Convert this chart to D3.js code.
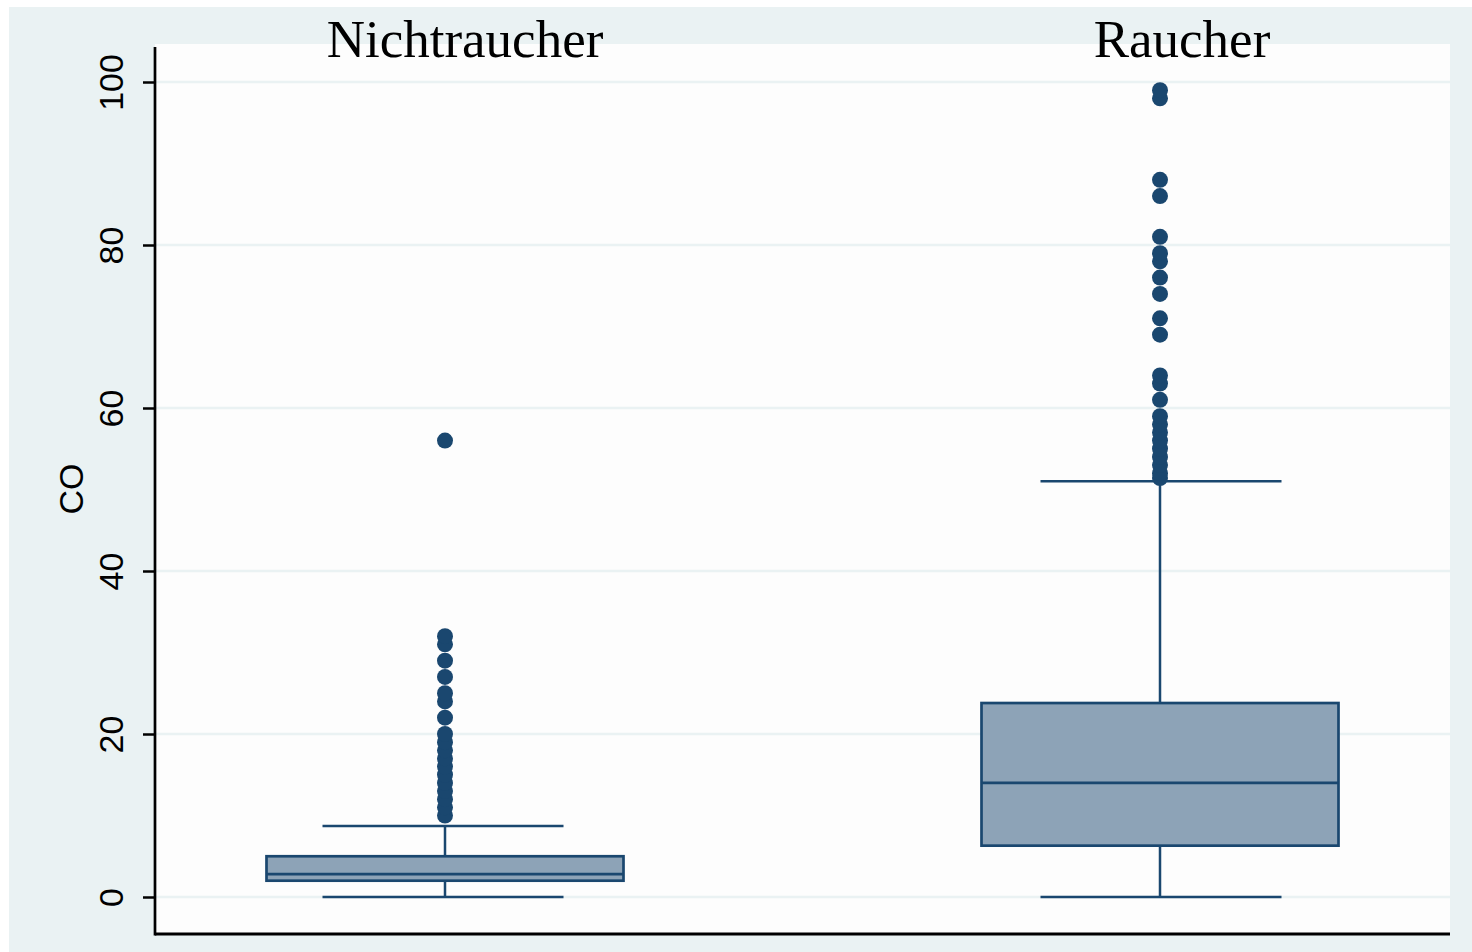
<!DOCTYPE html>
<html>
<head>
<meta charset="utf-8">
<script src="https://cdn.jsdelivr.net/npm/d3@7"></script>
<style>
  html, body { margin: 0; padding: 0; background: #ffffff; }
  svg { display: block; }
</style>
</head>
<body>
<div id="chart"></div>
<script>
// ---------------- data ----------------
const groups = ["Nichtraucher", "Raucher"];
const whiskerLow  = [0, 0];
const q1          = [2, 6.3];
const medians     = [2.8, 14];
const q3          = [5, 23.8];
const whiskerHigh = [8.7, 51];
const outliersNichtraucher = [10, 11, 12, 13, 14, 15, 16, 17, 18, 19, 20, 22, 24, 25, 27, 29, 31, 32, 56];
const outliersRaucher = [51.4, 52, 53, 54, 55, 56, 57, 58, 59, 61, 63, 64, 69, 71, 74, 76, 78, 79, 81, 86, 88, 98, 99];
const yTicks = [0, 20, 40, 60, 80, 100];
const yLabel = "CO";

// ---------------- layout ----------------
const W = 1472, H = 952;
const plotL = 155, plotR = 1450, plotT = 44, plotB = 934;
const navy = "#1a476f";
const fillCol = "#8da3b7";
const bg = "#eaf2f3";

const svg = d3.select("#chart").append("svg").attr("width", W).attr("height", H);
svg.append("rect").attr("x", 0).attr("y", 0).attr("width", W).attr("height", H).attr("fill", "#fff");
svg.append("rect").attr("x", 9).attr("y", 7).attr("width", W - 9).attr("height", H - 7).attr("fill", bg);
svg.append("rect").attr("x", plotL).attr("y", plotT).attr("width", plotR - plotL).attr("height", plotB - plotT).attr("fill", "#fdfdfd");

const y = d3.scaleLinear().domain([0, 100]).range([897, 82]);
const x = d3.scalePoint().domain(groups).range([445, 1160]);
const boxW = 357, capW = 241;

// grid
svg.append("g").selectAll("line").data(yTicks).join("line")
  .attr("x1", plotL).attr("x2", plotR)
  .attr("y1", d => y(d)).attr("y2", d => y(d))
  .attr("stroke", bg).attr("stroke-width", 2.5);

// y axis
const yAxis = d3.axisLeft(y).tickValues(yTicks).tickSize(12).tickPadding(0);
const ga = svg.append("g").attr("transform", `translate(${plotL},0)`).call(yAxis);
ga.select(".domain").remove();
ga.selectAll(".tick line").attr("stroke", "#000").attr("stroke-width", 2.5);
ga.selectAll(".tick text")
  .attr("transform", "rotate(-90)")
  .attr("x", 0).attr("y", -32).attr("dy", 0)
  .attr("text-anchor", "middle")
  .attr("fill", "#000")
  .style("font-family", "'Liberation Sans', Arial, sans-serif")
  .style("font-size", "34px");

svg.append("line").attr("x1", plotL).attr("x2", plotL).attr("y1", 47).attr("y2", plotB + 1.5)
  .attr("stroke", "#000").attr("stroke-width", 2.7);
svg.append("line").attr("x1", plotL).attr("x2", plotR).attr("y1", plotB).attr("y2", plotB)
  .attr("stroke", "#000").attr("stroke-width", 3);

// y label
svg.append("text")
  .attr("transform", `translate(83,489) rotate(-90)`)
  .attr("text-anchor", "middle")
  .style("font-family", "'Liberation Sans', Arial, sans-serif")
  .style("font-size", "34px")
  .attr("fill", "#000")
  .text(yLabel);

// boxes
const outliers = [outliersNichtraucher, outliersRaucher];
const capOffset = [-2, 1];
groups.forEach((g, i) => {
  const cx = x(g);
  const gg = svg.append("g");
  // whiskers
  gg.append("line").attr("x1", cx).attr("x2", cx).attr("y1", y(q3[i])).attr("y2", y(whiskerHigh[i]))
    .attr("stroke", navy).attr("stroke-width", 2.5);
  gg.append("line").attr("x1", cx).attr("x2", cx).attr("y1", y(q1[i])).attr("y2", y(whiskerLow[i]))
    .attr("stroke", navy).attr("stroke-width", 2.5);
  [whiskerHigh[i], whiskerLow[i]].forEach(v => {
    gg.append("line")
      .attr("x1", cx + capOffset[i] - capW / 2).attr("x2", cx + capOffset[i] + capW / 2)
      .attr("y1", y(v)).attr("y2", y(v))
      .attr("stroke", navy).attr("stroke-width", 2.5);
  });
  // box
  gg.append("rect")
    .attr("x", cx - boxW / 2).attr("width", boxW)
    .attr("y", y(q3[i])).attr("height", y(q1[i]) - y(q3[i]))
    .attr("fill", fillCol).attr("stroke", navy).attr("stroke-width", 2.7);
  gg.append("line").attr("x1", cx - boxW / 2).attr("x2", cx + boxW / 2)
    .attr("y1", y(medians[i])).attr("y2", y(medians[i]))
    .attr("stroke", navy).attr("stroke-width", 2.7);
  // outliers
  gg.selectAll("circle").data(outliers[i]).join("circle")
    .attr("cx", cx).attr("cy", d => y(d)).attr("r", 8)
    .attr("fill", navy);
});

// titles
const titleX = [465, 1182];
groups.forEach((g, i) => {
  svg.append("text")
    .attr("x", titleX[i]).attr("y", 57)
    .attr("text-anchor", "middle")
    .style("font-family", "'Liberation Serif', 'Times New Roman', serif")
    .style("font-size", "53px")
    .attr("fill", "#000")
    .text(g);
});
</script>
</body>
</html>
